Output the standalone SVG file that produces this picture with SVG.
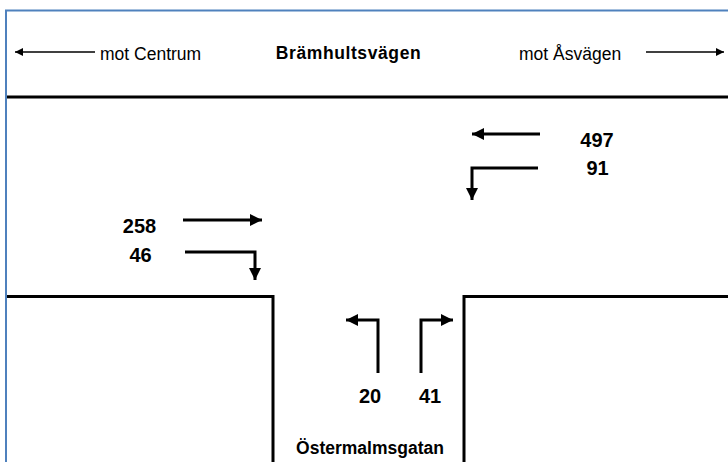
<svg xmlns="http://www.w3.org/2000/svg" width="728" height="462" viewBox="0 0 728 462">
<style>
.lbl{font-family:"Liberation Sans",Arial,sans-serif;font-size:17.5px;fill:#000}
.b{font-weight:bold}
.num{font-family:"Liberation Sans",Arial,sans-serif;font-size:20px;font-weight:bold;fill:#000;text-anchor:middle}
.road{stroke:#000;stroke-width:3;fill:none}
.thin{stroke:#000;stroke-width:1.3;fill:none}
.flow{stroke:#000;stroke-width:3;fill:none}
</style>
<defs>
<marker id="ah" viewBox="0 0 10 10" refX="10" refY="5" markerUnits="userSpaceOnUse" markerWidth="11" markerHeight="8" orient="auto"><path d="M0,0 L10,5 L0,10 z" fill="#000"/></marker>
<marker id="fh" viewBox="0 0 10 10" refX="10" refY="5" markerUnits="userSpaceOnUse" markerWidth="13" markerHeight="12" orient="auto"><path d="M0,0 L10,5 L0,10 z" fill="#000"/></marker>
</defs>
<rect width="728" height="462" fill="#fff"/>
<g id="frame"><path d="M6,462 V10.5 H728" stroke="#4f81bd" stroke-width="2" fill="none"/></g>
<g id="roads">
<line class="road" x1="7" y1="97" x2="728" y2="97"/>
<path class="road" d="M7,296.5 H273 V462"/>
<path class="road" d="M728,296.5 H464 V462"/>
</g>
<g id="labels">
<text class="lbl" x="100" y="60">mot Centrum</text>
<text class="lbl b" x="348.5" y="59" text-anchor="middle" font-size="16" letter-spacing="0.6">Brämhultsvägen</text>
<text class="lbl" x="519" y="60">mot Åsvägen</text>
<text class="lbl b" x="370" y="454" text-anchor="middle" font-size="18.5">Östermalmsgatan</text>
</g>
<g id="numbers">
<text class="num" x="139.5" y="233">258</text>
<text class="num" x="140.5" y="262">46</text>
<text class="num" x="597" y="147">497</text>
<text class="num" x="597.5" y="175">91</text>
<text class="num" x="370" y="403">20</text>
<text class="num" x="430" y="403">41</text>
</g>
<g id="connectors">
<line class="thin" x1="95" y1="52" x2="15" y2="52" marker-end="url(#ah)"/>
<line class="thin" x1="646" y1="52" x2="724" y2="52" marker-end="url(#ah)"/>
<line class="flow" x1="183" y1="220" x2="262" y2="220" marker-end="url(#fh)"/>
<path class="flow" d="M185,252 H255 V280" marker-end="url(#fh)"/>
<line class="flow" x1="540" y1="134" x2="472" y2="134" marker-end="url(#fh)"/>
<path class="flow" d="M538,168 H472 V200" marker-end="url(#fh)"/>
<path class="flow" d="M378,373 V320 H346" marker-end="url(#fh)"/>
<path class="flow" d="M421,373 V320 H453" marker-end="url(#fh)"/>
</g>
</svg>
